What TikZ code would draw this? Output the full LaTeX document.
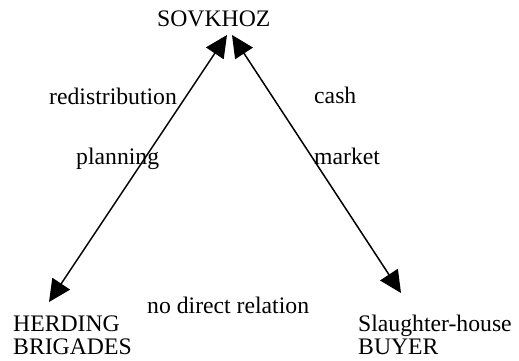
\documentclass[tikz,border=0pt]{standalone}
\usepackage{fontspec}
\setmainfont{Liberation Serif}
\usetikzlibrary{arrows.meta}
\begin{document}
\begin{tikzpicture}[x=1pt,y=-1pt,
  lbl/.style={inner sep=0pt,font=\fontsize{23.7}{23.3}\selectfont},
  dbl/.style={line width=1.5pt,{Triangle[length=22pt,width=21pt]}-{Triangle[length=22pt,width=21pt]}}]
\useasboundingbox (0,0) rectangle (519,360);
\node[lbl,anchor=base west] (sov) at (157,26) {SOVKHOZ};
\node[lbl,anchor=south west,align=left] (herd) at (13,355) {HERDING\\BRIGADES};
\node[lbl,anchor=south west,align=left] (buyer) at (358,355) {Slaughter-house\\BUYER};
\node[lbl,anchor=base west] (redis) at (49,104) {redistribution};
\node[lbl,anchor=base west] (plan) at (76,164) {planning};
\node[lbl,anchor=base west] (cash) at (314,103) {cash};
\node[lbl,anchor=base west] (market) at (314,164) {market};
\node[lbl,anchor=base west] (nodir) at (147,313) {no direct relation};
\coordinate (sovL) at (227,35);
\coordinate (sovR) at (232,35);
\coordinate (herdT) at (49,302);
\coordinate (buyT) at (401,293);
\draw[dbl] (sovL) -- (herdT);
\draw[dbl] (sovR) -- (buyT);
\end{tikzpicture}
\end{document}
